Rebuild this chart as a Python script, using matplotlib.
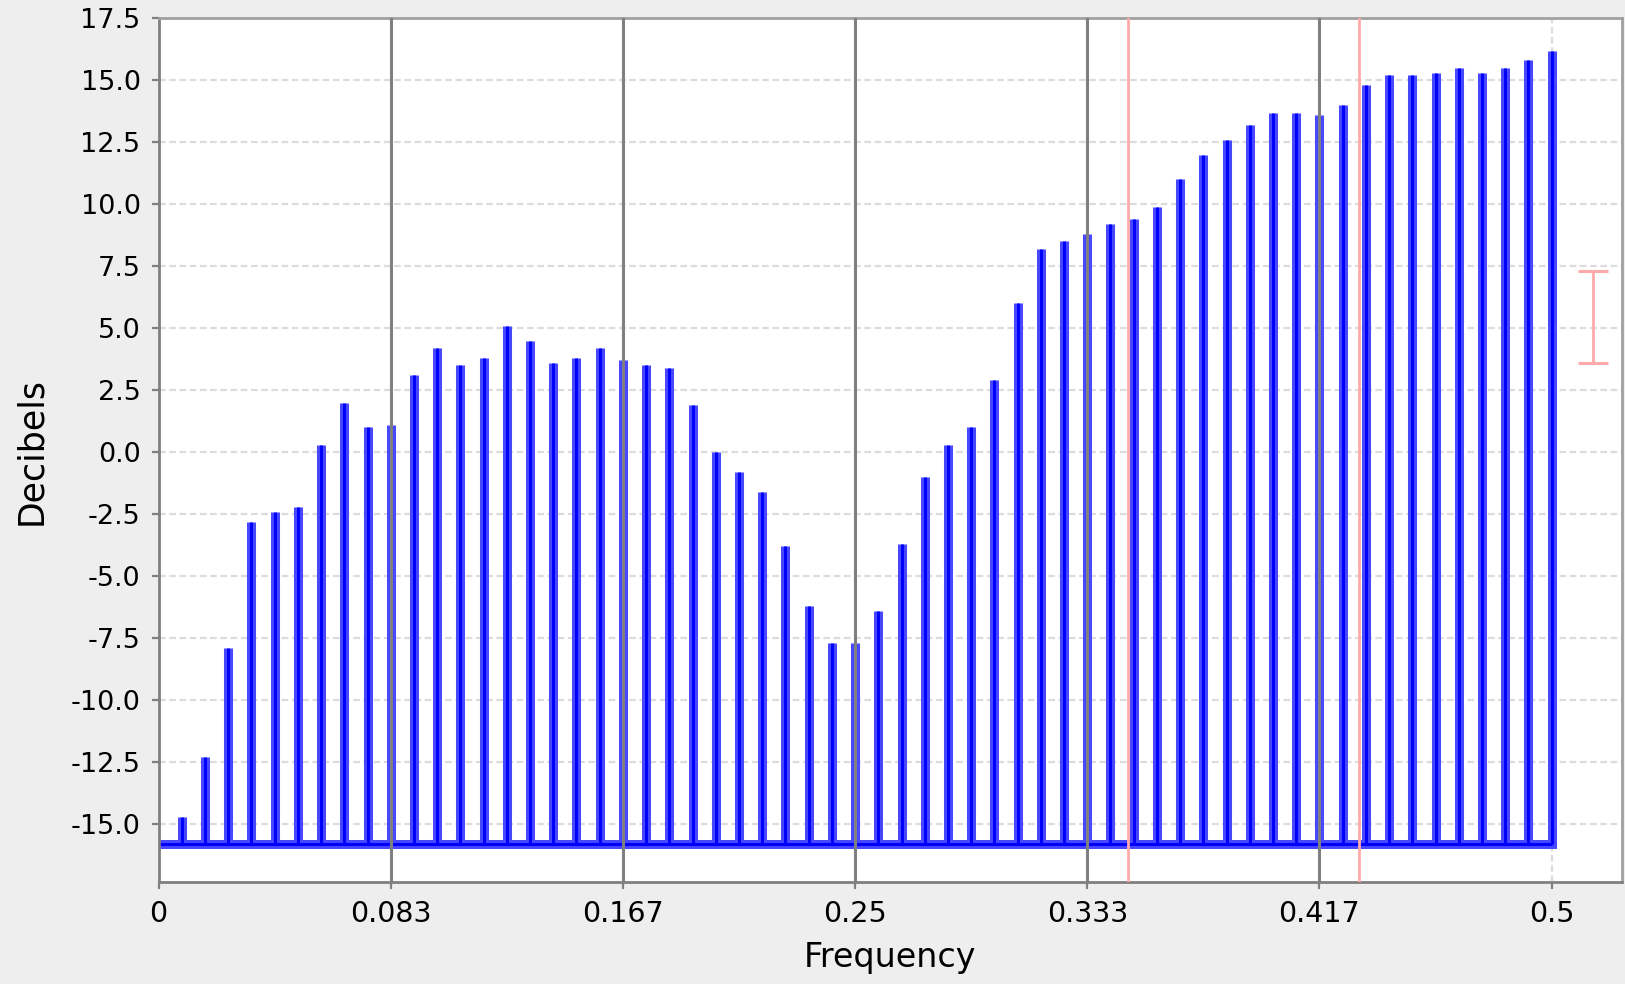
import numpy as np
import matplotlib
matplotlib.use("Agg")
import matplotlib.pyplot as plt

plt.rcParams["font.family"] = ["DejaVu Sans"]
plt.rcParams["axes.unicode_minus"] = False

# periodogram ordinates at the Fourier frequencies k/120, k = 1..60
n_obs = 120
freq = np.arange(1, 61) / n_obs
decibels = [-14.7, -12.3, -7.9, -2.8, -2.4, -2.2, 0.3, 2.0, 1.0, 1.1,
            3.1, 4.2, 3.5, 3.8, 5.1, 4.5, 3.6, 3.8, 4.2, 3.7,
            3.5, 3.4, 1.9, 0.0, -0.8, -1.6, -3.8, -6.2, -7.7, -7.7,
            -6.4, -3.7, -1.0, 0.3, 1.0, 2.9, 6.0, 8.2, 8.5, 8.8,
            9.2, 9.4, 9.9, 11.0, 12.0, 12.6, 13.2, 13.7, 13.7, 13.6,
            14.0, 14.8, 15.2, 15.2, 15.3, 15.5, 15.3, 15.5, 15.8, 16.2]
baseline = -15.8

harmonics = [1 / 12, 2 / 12, 3 / 12, 4 / 12, 5 / 12]
marked = [0.348, 0.431]
ci_x, ci_center, ci_half = 0.515, 5.45, 1.85

xticks = [0, 1 / 12, 2 / 12, 3 / 12, 4 / 12, 5 / 12, 0.5]
xticklabels = ["0", "0.083", "0.167", "0.25", "0.333", "0.417", "0.5"]
yticks = np.arange(-15, 17.6, 2.5)

fig = plt.figure(figsize=(16.25, 9.84), dpi=100)
fig.patch.set_facecolor("#eeeeee")
ax = fig.add_axes([0.0976, 0.1034, 0.9006, 0.878])
ax.set_facecolor("white")

ax.set_xlim(0, 0.5253)
ax.set_ylim(-17.35, 17.5)

ax.grid(True, color="#dcdcdc", linestyle=(0, (3, 1.6)), linewidth=1.6, zorder=0)
ax.set_axisbelow(True)

# stems + baseline: light blue halo with saturated core
ax.hlines(baseline, 0, freq[-1], colors="#4848ff", linewidth=6.5,
          capstyle="projecting", zorder=2)
ax.hlines(baseline, 0, freq[-1], colors="#0000ff", linewidth=2.2, zorder=2.1)
ax.vlines(freq, baseline, decibels, colors="#4848ff", linewidth=6.5,
          capstyle="butt", zorder=2)
ax.vlines(freq, baseline, decibels, colors="#0000ff", linewidth=2.2,
          capstyle="butt", zorder=2.1)

for h in harmonics:
    ax.axvline(h, color="#808080", linewidth=2.2, zorder=3)
for m in marked:
    ax.axvline(m, color="#ffaaaa", linewidth=2.0, zorder=3)

ax.errorbar([ci_x], [ci_center], yerr=[ci_half], fmt="none", ecolor="#ffaaaa",
            elinewidth=2.0, capsize=11, capthick=2.2, zorder=3)

ax.set_xticks(xticks)
ax.set_xticklabels(xticklabels, fontsize=20.5)
ax.set_yticks(yticks)
ax.set_yticklabels([f"{v:.1f}" for v in yticks], fontsize=19.5)
ax.tick_params(direction="out", length=5, width=1.6, color="#808080", pad=8)

for side, s in ax.spines.items():
    s.set_color("#a0a0a0" if side in ("top", "right") else "#808080")
    s.set_linewidth(2.0)

fig.text(31 / 1625, 1 - 451 / 984, "Decibels", rotation=90, ha="center",
         va="center", fontsize=25)
fig.text(890 / 1625, 1 - 941 / 984, "Frequency", ha="center", va="top",
         fontsize=24)

fig.savefig("out.png", dpi=100, facecolor=fig.get_facecolor())
